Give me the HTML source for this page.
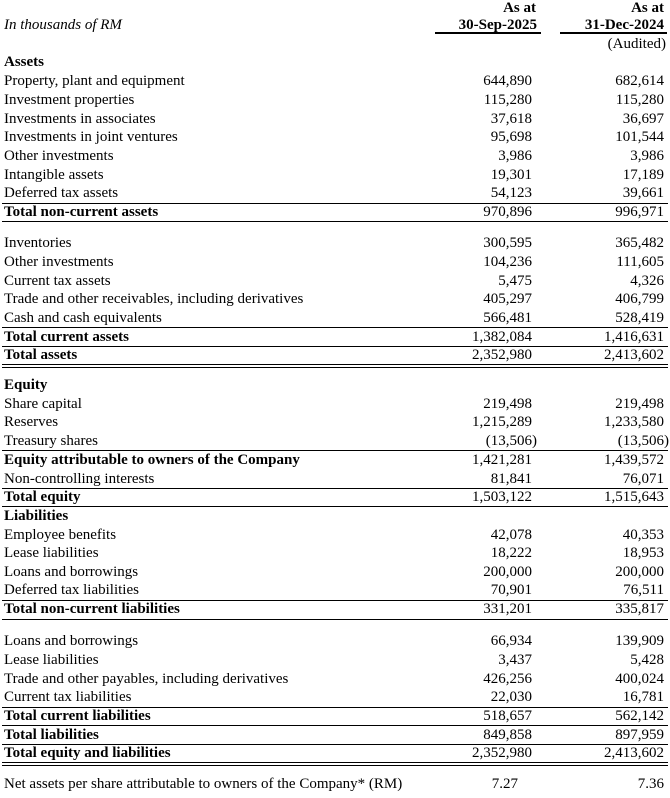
<!DOCTYPE html>
<html><head><meta charset="utf-8"><style>
body{margin:0;background:#fff;width:670px;height:798px;position:relative;overflow:hidden;font-family:"Liberation Serif",serif;font-size:15px;color:#000}
.r{position:absolute;left:4px;width:666px;height:18px;line-height:18px;white-space:nowrap}
.r span{position:absolute;top:0}
.a{right:138px}
.b{right:6px}
.bd{font-weight:bold}
.l{position:absolute;left:2px;width:666px;height:1px;background:#000}
.h{position:absolute;height:1.5px;background:#000}
</style></head><body>
<div class="r bd" style="top:-1px"><span style="right:134px">As at</span><span style="right:6px">As at</span></div>
<div class="r" style="top:16px"><i>In thousands of RM</i><span class="bd" style="right:133px">30-Sep-2025</span><span class="bd" style="right:6px">31-Dec-2024</span></div>
<div class="h" style="left:435px;width:106px;top:32px"></div>
<div class="h" style="left:560px;width:107px;top:32px"></div>
<div class="r" style="top:35px"><span style="right:4px">(Audited)</span></div>
<div class="r bd" style="top:53px">Assets</div>
<div class="r" style="top:72px">Property, plant and equipment<span class="a">644,890</span><span class="b">682,614</span></div>
<div class="r" style="top:91px">Investment properties<span class="a">115,280</span><span class="b">115,280</span></div>
<div class="r" style="top:110px">Investments in associates<span class="a">37,618</span><span class="b">36,697</span></div>
<div class="r" style="top:128px">Investments in joint ventures<span class="a">95,698</span><span class="b">101,544</span></div>
<div class="r" style="top:147px">Other investments<span class="a">3,986</span><span class="b">3,986</span></div>
<div class="r" style="top:166px">Intangible assets<span class="a">19,301</span><span class="b">17,189</span></div>
<div class="r" style="top:184px">Deferred tax assets<span class="a">54,123</span><span class="b">39,661</span></div>
<div class="l" style="top:203px"></div>
<div class="r bd" style="top:203px">Total non-current assets<span class="a" style="font-weight:normal">970,896</span><span class="b" style="font-weight:normal">996,971</span></div>
<div class="l" style="top:221px"></div>
<div class="r" style="top:234px">Inventories<span class="a">300,595</span><span class="b">365,482</span></div>
<div class="r" style="top:253px">Other investments<span class="a">104,236</span><span class="b">111,605</span></div>
<div class="r" style="top:272px">Current tax assets<span class="a">5,475</span><span class="b">4,326</span></div>
<div class="r" style="top:290px">Trade and other receivables, including derivatives<span class="a">405,297</span><span class="b">406,799</span></div>
<div class="r" style="top:309px">Cash and cash equivalents<span class="a">566,481</span><span class="b">528,419</span></div>
<div class="l" style="top:327px"></div>
<div class="r bd" style="top:328px">Total current assets<span class="a" style="font-weight:normal">1,382,084</span><span class="b" style="font-weight:normal">1,416,631</span></div>
<div class="l" style="top:346px"></div>
<div class="r bd" style="top:346px">Total assets<span class="a" style="font-weight:normal">2,352,980</span><span class="b" style="font-weight:normal">2,413,602</span></div>
<div class="l" style="top:364px"></div>
<div class="l" style="top:367px"></div>
<div class="r bd" style="top:376px">Equity</div>
<div class="r" style="top:395px">Share capital<span class="a">219,498</span><span class="b">219,498</span></div>
<div class="r" style="top:413px">Reserves<span class="a">1,215,289</span><span class="b">1,233,580</span></div>
<div class="r" style="top:432px">Treasury shares<span class="a" style="right:133px">(13,506)</span><span class="b" style="right:1px">(13,506)</span></div>
<div class="l" style="top:450px"></div>
<div class="r bd" style="top:451px">Equity attributable to owners of the Company<span class="a" style="font-weight:normal">1,421,281</span><span class="b" style="font-weight:normal">1,439,572</span></div>
<div class="r" style="top:470px">Non-controlling interests<span class="a">81,841</span><span class="b">76,071</span></div>
<div class="l" style="top:488px"></div>
<div class="r bd" style="top:488px">Total equity<span class="a" style="font-weight:normal">1,503,122</span><span class="b" style="font-weight:normal">1,515,643</span></div>
<div class="l" style="top:506px"></div>
<div class="r bd" style="top:507px">Liabilities</div>
<div class="r" style="top:526px">Employee benefits<span class="a">42,078</span><span class="b">40,353</span></div>
<div class="r" style="top:544px">Lease liabilities<span class="a">18,222</span><span class="b">18,953</span></div>
<div class="r" style="top:563px">Loans and borrowings<span class="a">200,000</span><span class="b">200,000</span></div>
<div class="r" style="top:581px">Deferred tax liabilities<span class="a">70,901</span><span class="b">76,511</span></div>
<div class="l" style="top:600px"></div>
<div class="r bd" style="top:600px">Total non-current liabilities<span class="a" style="font-weight:normal">331,201</span><span class="b" style="font-weight:normal">335,817</span></div>
<div class="l" style="top:619px"></div>
<div class="r" style="top:632px">Loans and borrowings<span class="a">66,934</span><span class="b">139,909</span></div>
<div class="r" style="top:651px">Lease liabilities<span class="a">3,437</span><span class="b">5,428</span></div>
<div class="r" style="top:670px">Trade and other payables, including derivatives<span class="a">426,256</span><span class="b">400,024</span></div>
<div class="r" style="top:688px">Current tax liabilities<span class="a">22,030</span><span class="b">16,781</span></div>
<div class="l" style="top:707px"></div>
<div class="r bd" style="top:707px">Total current liabilities<span class="a" style="font-weight:normal">518,657</span><span class="b" style="font-weight:normal">562,142</span></div>
<div class="l" style="top:725px"></div>
<div class="r bd" style="top:726px">Total liabilities<span class="a" style="font-weight:normal">849,858</span><span class="b" style="font-weight:normal">897,959</span></div>
<div class="l" style="top:744px"></div>
<div class="r bd" style="top:744px">Total equity and liabilities<span class="a" style="font-weight:normal">2,352,980</span><span class="b" style="font-weight:normal">2,413,602</span></div>
<div class="l" style="top:762px"></div>
<div class="l" style="top:765px"></div>
<div class="r" style="top:775px">Net assets per share attributable to owners of the Company* (RM)<span class="a" style="right:152px">7.27</span><span class="b">7.36</span></div>
</body></html>
